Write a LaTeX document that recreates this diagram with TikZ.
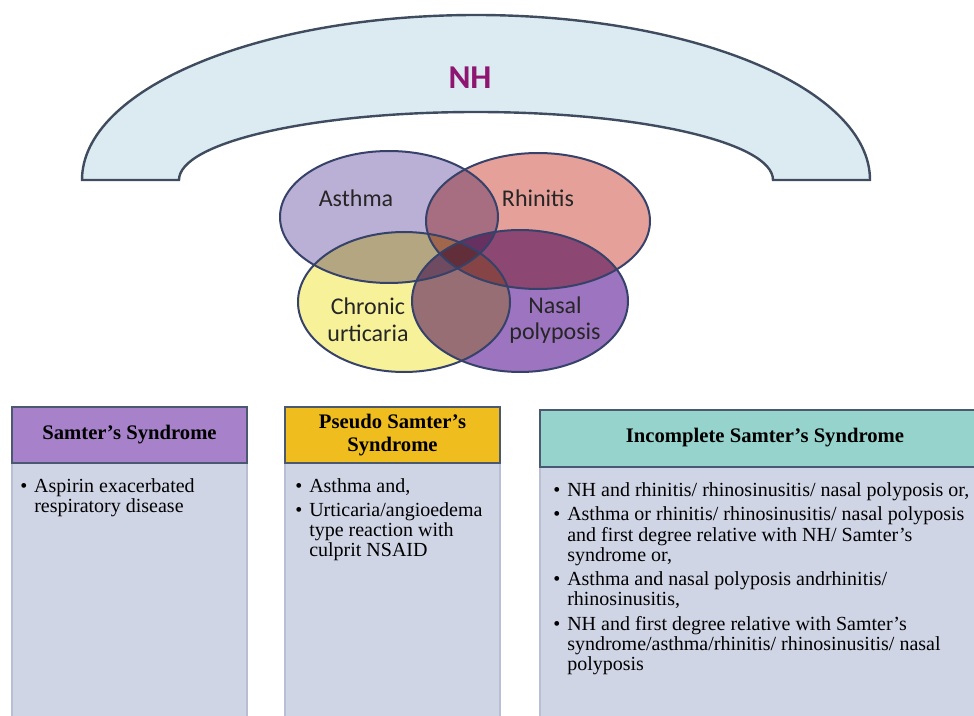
\documentclass[tikz,border=0pt]{standalone}
\usepackage{fontspec}
\setmainfont{Liberation Serif}
\newfontfamily\vennfont{Carlito}
\usepackage{array}
\definecolor{archfill}{HTML}{DCEBF1}
\definecolor{archline}{HTML}{3F4B5F}
\definecolor{nhcol}{HTML}{8E1670}
\definecolor{asthmacol}{HTML}{BAAFD4}
\definecolor{rhincol}{HTML}{E6A09A}
\definecolor{urtcol}{HTML}{F7F29A}
\definecolor{nasalcol}{HTML}{9C74C0}
\definecolor{vennline}{HTML}{36426A}
\definecolor{bodyfill}{HTML}{D0D5E6}
\definecolor{bodyline}{HTML}{B8BFD4}
\definecolor{hdrA}{HTML}{A782CA}
\definecolor{hdrB}{HTML}{F0BD1E}
\definecolor{hdrC}{HTML}{96D3CC}
\definecolor{hdrline}{HTML}{4A5870}
\tikzset{
  vennlabel/.style={font=\vennfont\fontsize{18}{20}\selectfont, text=black!85, align=center, inner sep=0pt},
  vennedge/.style={draw=vennline, line width=1.5pt},
  bodybox/.style={fill=bodyfill, draw=bodyline, line width=0.8pt},
  hdrbox/.style={draw=hdrline, line width=1.2pt},
  hdrtext/.style={font=\bfseries\fontsize{15.5}{17.5}\selectfont, align=center, inner sep=0pt},
  bodytext/.style={anchor=north west, inner sep=0pt, font=\fontsize{15}{15}\selectfont}
}
\begin{document}
\begin{tikzpicture}[x=0.75pt,y=0.75pt]
\useasboundingbox (0,0) rectangle (974,715);
\clip (0,0) rectangle (974,715);
% NH arch
\draw[archline, line width=1.8pt, fill=archfill]
  (82,535) arc[start angle=180, end angle=0, x radius=394, y radius=165]
  -- (773,535) arc[start angle=0, end angle=180, x radius=297, y radius=68] -- cycle;
\node[text=nhcol, font=\vennfont\bfseries\fontsize{25}{28}\selectfont, inner sep=0pt] (nh) at (470,637) {NH};
% Venn
\begin{scope}[blend group=multiply]
\fill[asthmacol] (389,498) ellipse[x radius=109, y radius=66];
\fill[rhincol] (538,494) ellipse[x radius=112, y radius=68];
\fill[urtcol] (404,413) ellipse[x radius=106, y radius=70];
\fill[nasalcol] (520,414) ellipse[x radius=108, y radius=71];
\end{scope}
\draw[vennedge] (389,498) ellipse[x radius=109, y radius=66];
\draw[vennedge] (538,494) ellipse[x radius=112, y radius=68];
\draw[vennedge] (404,413) ellipse[x radius=106, y radius=70];
\draw[vennedge] (520,414) ellipse[x radius=108, y radius=71];
\node[vennlabel] (asthma) at (356,517) {Asthma};
\node[vennlabel] (rhinitis) at (538,517) {Rhinitis};
\node[vennlabel] (urticaria) at (368,395) {Chronic\\urticaria};
\node[vennlabel] (nasal) at (555,395) {Nasal\\polyposis};
% Box 1
\draw[bodybox] (12,-5) rectangle (247,252);
\draw[hdrbox, fill=hdrA] (12,252) rectangle (247,308);
\node[hdrtext] (h1) at (129.5,280) {Samter’s Syndrome};
\node[bodytext] (b1) at (20,237) {\begin{tabular}{@{}p{10.5pt}@{}l@{}}
\textbullet & Aspirin exacerbated\\
 & respiratory disease
\end{tabular}};
% Box 2
\draw[bodybox] (285,-5) rectangle (500,252);
\draw[hdrbox, fill=hdrB] (285,252) rectangle (500,308);
\node[hdrtext] (h2) at (392.5,280) {Pseudo Samter’s\\Syndrome};
\node[bodytext] (b2) at (295,237) {\begin{tabular}{@{}p{10.5pt}@{}l@{}}
\textbullet & Asthma and,\\[3.5pt]
\textbullet & Urticaria/angioedema\\
 & type reaction with\\
 & culprit NSAID
\end{tabular}};
% Box 3
\draw[bodybox] (540,-5) rectangle (985,248);
\draw[hdrbox, fill=hdrC] (540,248) rectangle (985,305);
\node[hdrtext] (h3) at (765,277) {Incomplete Samter’s Syndrome};
\node[bodytext] (b3) at (553,233) {\begin{tabular}{@{}p{10.5pt}@{}l@{}}
\textbullet & NH and rhinitis/ rhinosinusitis/ nasal polyposis or,\\[3.5pt]
\textbullet & Asthma or rhinitis/ rhinosinusitis/ nasal polyposis\\
 & and first degree relative with NH/ Samter’s\\
 & syndrome or,\\[3.5pt]
\textbullet & Asthma and nasal polyposis andrhinitis/\\
 & rhinosinusitis,\\[3.5pt]
\textbullet & NH and first degree relative with Samter’s\\
 & syndrome/asthma/rhinitis/ rhinosinusitis/ nasal\\
 & polyposis
\end{tabular}};
\end{tikzpicture}
\end{document}
